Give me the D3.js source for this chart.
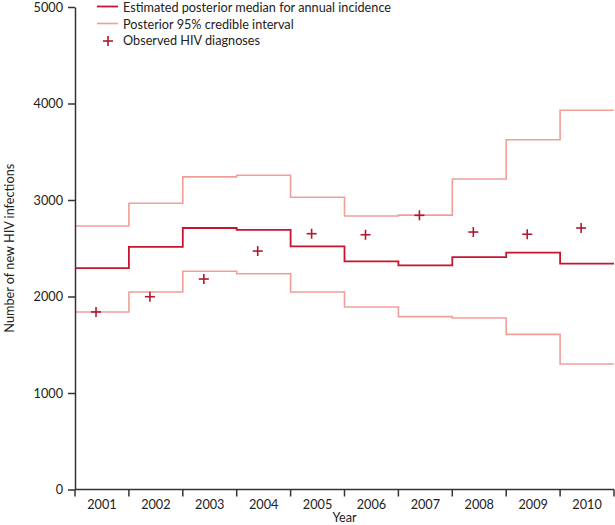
<!DOCTYPE html>
<html><head><meta charset="utf-8">
<script src="https://cdn.jsdelivr.net/npm/d3@7"></script>
<style>body{margin:0;background:#fff}svg{display:block;font-family:Lato,sans-serif}</style>
</head><body>
<svg id="c" width="615" height="525"></svg>
<script>
const years = ["2001","2002","2003","2004","2005","2006","2007","2008","2009","2010"];
const median = [2295, 2515, 2710, 2690, 2520, 2365, 2323, 2409, 2454, 2340];
const upper = [2731, 2966, 3240, 3256, 3028, 2834, 2843, 3218, 3625, 3930];
const lower = [1840, 2047, 2262, 2236, 2047, 1891, 1791, 1777, 1608, 1300];
const observed = [1840, 1998, 2181, 2471, 2651, 2640, 2841, 2668, 2645, 2710];
const yTicks = [0, 1000, 2000, 3000, 4000, 5000];
const legendLabels = ["Estimated posterior median for annual incidence", "Posterior 95% credible interval", "Observed HIV diagnoses"];

const cMed = "#c8142e", cInt = "#ef9f98", cObs = "#b3172f", cAxis = "#333";
const fs = 12.7, fam = "Lato";
const svg = d3.select("#c");
const mLeft = 75, mRight = 614, mTop = 7, mBottom = 489.5;
const x = d3.scaleBand().domain(years).range([mLeft, mRight]).padding(0);
const y = d3.scaleLinear().domain([0, 5000]).range([mBottom, mTop]);

function stepPts(vals){
  const pts = [];
  years.forEach((yr,i)=>{
    pts.push([x(yr), y(vals[i])]);
    pts.push([x(yr)+x.bandwidth(), y(vals[i])]);
  });
  return pts;
}
const line = d3.line();
svg.append("path").attr("d", line(stepPts(upper))).attr("fill","none").attr("stroke",cInt).attr("stroke-width",1.6);
svg.append("path").attr("d", line(stepPts(lower))).attr("fill","none").attr("stroke",cInt).attr("stroke-width",1.6);
svg.append("path").attr("d", line(stepPts(median))).attr("fill","none").attr("stroke",cMed).attr("stroke-width",1.8);

// observed
const ps = 5;
years.forEach((yr,i)=>{
  const cx = x(yr) + x.bandwidth()*0.39, cy = y(observed[i]);
  const g = svg.append("g").attr("stroke",cObs).attr("stroke-width",1.6);
  g.append("line").attr("x1",cx-ps).attr("x2",cx+ps).attr("y1",cy).attr("y2",cy);
  g.append("line").attr("x1",cx).attr("x2",cx).attr("y1",cy-ps).attr("y2",cy+ps);
});

// y axis
const ya = svg.append("g").attr("transform",`translate(${mLeft},0)`)
  .call(d3.axisLeft(y).tickValues(yTicks).tickSize(7).tickSizeOuter(0).tickPadding(5).tickFormat(d3.format("d")));
ya.select(".domain").attr("stroke",cAxis).attr("stroke-width",1.5);
ya.selectAll(".tick line").attr("stroke",cAxis).attr("stroke-width",1.5);
ya.selectAll("text").attr("font-size",fs).attr("fill","#222").attr("font-family",fam);

// x axis
const xa = svg.append("g").attr("transform",`translate(0,${mBottom})`);
xa.append("line").attr("x1",mLeft).attr("x2",mRight).attr("y1",0).attr("y2",0).attr("stroke",cAxis).attr("stroke-width",1.5);
const bounds = years.map(yr=>x(yr)).concat([mRight]);
xa.selectAll("line.t").data(bounds).join("line").attr("class","t")
  .attr("x1",d=>d).attr("x2",d=>d).attr("y1",0).attr("y2",7).attr("stroke",cAxis).attr("stroke-width",1.5);
xa.selectAll("text").data(years).join("text")
  .attr("x",d=>x(d)+x.bandwidth()/2).attr("y",19.5).attr("text-anchor","middle")
  .attr("font-size",fs).attr("fill","#222").text(d=>d);

// axis titles
svg.append("text").attr("x",(mLeft+mRight)/2).attr("y",521.5).attr("text-anchor","middle")
  .attr("font-size",fs).attr("fill","#222").text("Year");
svg.append("text").attr("transform",`translate(14,${(mTop+mBottom)/2}) rotate(-90)`).attr("text-anchor","middle")
  .attr("font-size",fs).attr("fill","#222").text("Number of new HIV infections");

// legend
const lg = svg.append("g");
const rowsY = [8, 24.5, 41];
lg.append("line").attr("x1",97).attr("x2",118).attr("y1",6.5).attr("y2",6.5).attr("stroke",cMed).attr("stroke-width",1.8);
lg.append("line").attr("x1",97).attr("x2",118).attr("y1",23.5).attr("y2",23.5).attr("stroke",cInt).attr("stroke-width",1.6);
const lp = lg.append("g").attr("stroke",cObs).attr("stroke-width",1.6);
lp.append("line").attr("x1",108-ps).attr("x2",108+ps).attr("y1",rowsY[2]).attr("y2",rowsY[2]);
lp.append("line").attr("x1",108).attr("x2",108).attr("y1",rowsY[2]-ps).attr("y2",rowsY[2]+ps);
legendLabels.forEach((t,i)=>{
  lg.append("text").attr("x",123).attr("y",rowsY[i]).attr("dy","0.32em").attr("font-size",fs).attr("fill","#222").text(t);
});
</script>
</body></html>
